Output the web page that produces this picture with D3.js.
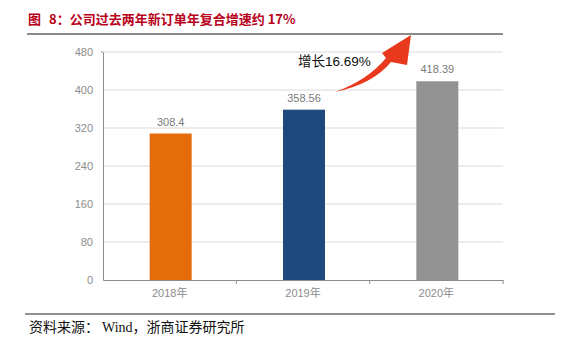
<!DOCTYPE html>
<html>
<head>
<meta charset="utf-8">
<script src="https://cdn.jsdelivr.net/npm/d3@7"></script>
<style>
  body { margin: 0; background: #fff; }
  text { font-family: "Liberation Sans", Arial, "Noto Sans CJK SC", sans-serif; }
</style>
</head>
<body>
<svg id="chart" width="576" height="344"></svg>
<script>
const years = ["2018年", "2019年", "2020年"];
const orders = [308.4, 358.56, 418.39];
const barColors = ["#E46C0A", "#1F497D", "#929292"];
const yTicks = [0, 80, 160, 240, 320, 400, 480];
const growthLabel = "增长16.69%";

const svg = d3.select("#chart");

// title
const title = svg.append("text")
    .attr("x", 28).attr("y", 24)
    .attr("fill", "#B8001A")
    .style("font-family", "'Noto Sans CJK SC', sans-serif")
    .style("font-weight", "bold")
    .style("font-size", "13px");
title.append("tspan").text("图");
title.append("tspan").attr("dx", 8).text("8：公司过去两年新订单年复合增速约 17%");

svg.append("line")
    .attr("x1", 27).attr("x2", 503).attr("y1", 34).attr("y2", 34)
    .attr("stroke", "#8c8c8c").attr("stroke-width", 2);

const plotL = 103, plotR = 503, plotT = 52, plotB = 280;

const x = d3.scaleBand().domain(years).range([plotL, plotR]).paddingInner(0).paddingOuter(0);
const y = d3.scaleLinear().domain([0, 480]).range([plotB, plotT]);

// gridlines
svg.append("g").selectAll("line")
    .data(yTicks.filter(d => d > 0))
    .enter().append("line")
    .attr("x1", plotL).attr("x2", plotR)
    .attr("y1", d => y(d)).attr("y2", d => y(d))
    .attr("stroke", "#d9d9d9").attr("stroke-width", 1);

// y axis
const yAxis = svg.append("g")
    .attr("transform", `translate(${plotL},0)`)
    .call(d3.axisLeft(y).tickValues(yTicks).tickSize(0).tickPadding(10));
yAxis.select(".domain").attr("stroke", "#8c8c8c");
yAxis.selectAll("text").attr("fill", "#8c8c8c").style("font-size", "11px");
svg.append("line").attr("x1", plotL - 2).attr("x2", plotL).attr("y1", plotT).attr("y2", plotT)
    .attr("stroke", "#8c8c8c");

// bars
const barW = 42;
svg.append("g").selectAll("rect")
    .data(orders)
    .enter().append("rect")
    .attr("x", (d, i) => x(years[i]) + x.bandwidth() / 2 - barW / 2 + 1)
    .attr("y", d => y(d))
    .attr("width", barW)
    .attr("height", d => plotB - y(d))
    .attr("fill", (d, i) => barColors[i]);

svg.append("g").selectAll("text")
    .data(orders)
    .enter().append("text")
    .attr("x", (d, i) => x(years[i]) + x.bandwidth() / 2 + 1)
    .attr("y", d => y(d) - 8)
    .attr("text-anchor", "middle")
    .attr("fill", "#7a7a7a")
    .style("font-size", "11px")
    .text(d => d);

// x axis
const xAxis = svg.append("g")
    .attr("transform", `translate(0,${plotB})`)
    .call(d3.axisBottom(x).tickSize(0).tickPadding(9));
xAxis.select(".domain").attr("stroke", "#8c8c8c");
xAxis.selectAll("text").attr("fill", "#8c8c8c").style("font-size", "11px");
svg.append("g").selectAll("line")
    .data(years.slice(1).map(d => x(d)).concat([plotR]))
    .enter().append("line")
    .attr("x1", d => d).attr("x2", d => d)
    .attr("y1", plotB).attr("y2", plotB + 4)
    .attr("stroke", "#8c8c8c");

// growth arrow
svg.append("path")
    .attr("d", "M335,92 Q373,84 391,62 L407,65 L411,35 L382,53 L386,58 Q368,80 335,92 Z")
    .attr("fill", "#E8391D");

svg.append("text")
    .attr("x", 298).attr("y", 66)
    .attr("fill", "#111")
    .style("font-size", "13.5px")
    .text(growthLabel);

// footer
svg.append("line")
    .attr("x1", 25).attr("x2", 555).attr("y1", 314).attr("y2", 314)
    .attr("stroke", "#222").attr("stroke-width", 1);

const src = svg.append("text")
    .attr("x", 29).attr("y", 332)
    .attr("fill", "#111")
    .style("font-family", "'Liberation Serif', 'Noto Sans CJK SC', serif")
    .style("font-size", "14px");
src.append("tspan").text("资料来源：");
src.append("tspan").attr("dx", 3).text("Wind，浙商证券研究所");
</script>
</body>
</html>
